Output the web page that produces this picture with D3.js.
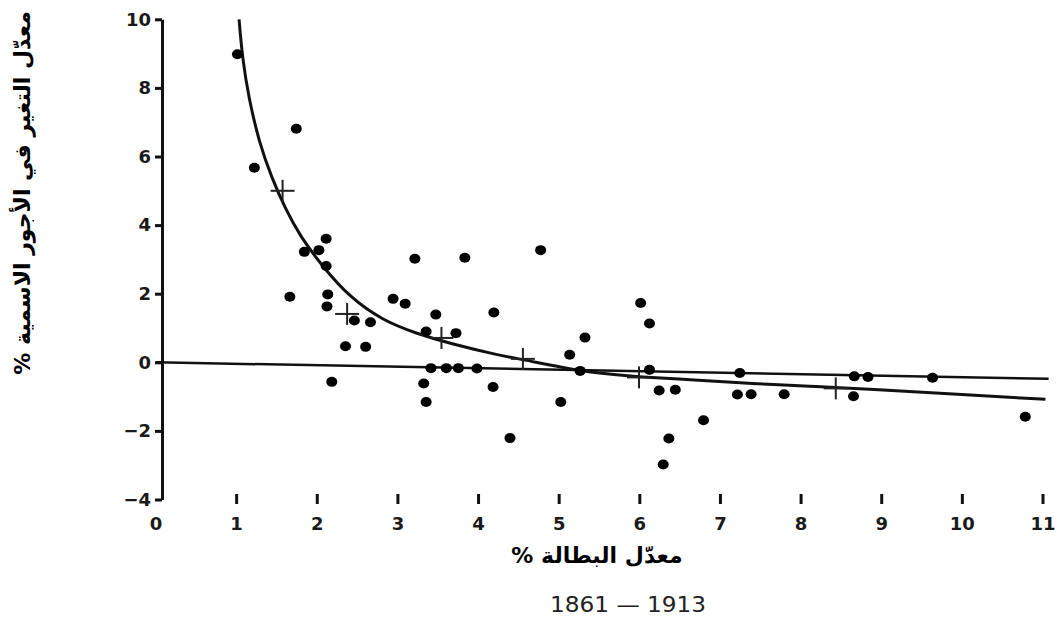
<html>
  <head>
    <meta charset="utf-8">
    <title>Phillips curve 1861-1913</title>
    <script src="https://cdn.jsdelivr.net/npm/d3@7"></script>
    <style type="text/css">

body {
  margin: 0;
  background: #fff;
}

svg {
  display: block;
  font-family: "DejaVu Sans", sans-serif;
}

.axis path, .axis line, .xtick {
  stroke: #111;
  stroke-width: 3px;
  fill: none;
}

.axis text, .xlab {
  font-size: 18px;
  font-weight: bold;
  fill: #1a1a1a;
}

.curve, .flat {
  fill: none;
  stroke: #111;
}

.cross {
  stroke: #222;
  stroke-width: 2px;
}

.title {
  font-weight: bold;
  font-size: 22px;
  fill: #000;
}

    </style>
  </head>
  <body>
    <script type="text/javascript">

// observations 1861-1913: unemployment % and change of money wages %
var unemployment = [1.01, 1.22, 1.74, 1.84, 2.02, 2.11, 2.11, 1.66, 2.13, 2.12,
  2.46, 2.66, 2.35, 2.60, 2.18, 2.94, 3.09, 3.21, 3.83, 3.47,
  3.35, 3.72, 4.19, 3.41, 3.60, 3.75, 3.98, 3.32, 3.35, 4.18,
  4.39, 4.77, 5.13, 5.32, 5.26, 5.02, 6.01, 6.12, 6.12, 6.24,
  6.44, 6.36, 6.29, 6.79, 7.24, 7.21, 7.38, 7.79, 8.66, 8.83,
  8.65, 9.63, 10.78];
var wageChange = [8.98, 5.67, 6.81, 3.22, 3.27, 3.60, 2.81, 1.91, 1.98, 1.63,
  1.22, 1.17, 0.47, 0.45, -0.57, 1.85, 1.71, 3.02, 3.05, 1.39,
  0.90, 0.85, 1.45, -0.17, -0.17, -0.17, -0.18, -0.62, -1.16, -0.72,
  -2.21, 3.27, 0.22, 0.72, -0.25, -1.16, 1.73, 1.13, -0.22, -0.82,
  -0.80, -2.22, -2.98, -1.69, -0.31, -0.94, -0.93, -0.93, -0.41, -0.43,
  -0.99, -0.45, -1.59];

// averages (crosses)
var crossX = [1.57, 2.37, 3.54, 4.55, 5.99, 8.43];
var crossY = [5.00, 1.41, 0.71, 0.10, -0.44, -0.76];

// fitted curve
var curveX = [1.03, 1.07, 1.15, 1.28, 1.44, 1.60, 1.78, 2.07, 2.40, 2.81,
  3.23, 3.64, 4.26, 4.55, 5.01, 5.50, 5.99, 6.75, 7.37, 8.15, 8.65, 11.03];
var curveY = [10.0, 8.9, 7.7, 6.4, 5.35, 4.5, 3.7, 2.78, 1.90, 1.22,
  0.84, 0.55, 0.20, 0.08, -0.14, -0.33, -0.43, -0.52, -0.62, -0.70, -0.76, -1.08];

// nearly flat line
var lineX = [0, 11.07];
var lineY = [0, -0.48];

var xTicks = [0, 1, 2, 3, 4, 5, 6, 7, 8, 9, 10, 11];
var yTicks = [-4, -2, 0, 2, 4, 6, 8, 10];

var w = 1060,
    h = 624,
    x = d3.scaleLinear().domain([0, 11]).range([156, 1043]),
    y = d3.scaleLinear().domain([-4, 10]).range([499.5, 19.3]);

var vis = d3.select("body")
  .append("svg")
    .attr("width", w)
    .attr("height", h);

vis.append("rect")
    .attr("width", w)
    .attr("height", h)
    .attr("fill", "#fff");

// y axis, drawn a little right of the zero mark as in the original
var yAxis = vis.append("g")
    .attr("class", "axis")
    .attr("transform", "translate(" + (x(0) + 6) + ",0)")
    .call(d3.axisLeft(y)
      .tickValues(yTicks)
      .tickSizeInner(7)
      .tickSizeOuter(0)
      .tickPadding(4)
      .tickFormat(function(d) { return d < 0 ? "\u2212" + Math.abs(d) : d; }));
yAxis.selectAll("text").attr("font-family", "DejaVu Sans, sans-serif");

// x ticks are loose marks above the labels
vis.selectAll("line.xtick")
    .data(xTicks.filter(function(d) { return d > 0; }))
  .enter().append("line")
    .attr("class", "xtick")
    .attr("x1", x)
    .attr("x2", x)
    .attr("y1", 494)
    .attr("y2", 504);

vis.selectAll("text.xlab")
    .data(xTicks)
  .enter().append("text")
    .attr("class", "xlab")
    .attr("x", x)
    .attr("y", 530)
    .attr("text-anchor", "middle")
    .text(function(d) { return d; });

vis.append("path")
    .attr("class", "flat")
    .attr("stroke-width", 2.5)
    .attr("d", d3.line()
      .x(function(d) { return x(d); })
      .y(function(d, i) { return y(lineY[i]); })(lineX));

vis.append("path")
    .attr("class", "curve")
    .attr("stroke-width", 3)
    .attr("d", d3.line()
      .curve(d3.curveBasis)
      .x(function(d) { return x(d); })
      .y(function(d, i) { return y(curveY[i]); })(curveX));

vis.selectAll("ellipse.obs")
    .data(unemployment)
  .enter().append("ellipse")
    .attr("class", "obs")
    .attr("cx", function(d) { return x(d); })
    .attr("cy", function(d, i) { return y(wageChange[i]); })
    .attr("rx", 5.5)
    .attr("ry", 5)
    .attr("fill", "#000");

var crosses = vis.selectAll("g.cross")
    .data(crossX)
  .enter().append("g")
    .attr("class", "cross")
    .attr("transform", function(d, i) {
      return "translate(" + x(d) + "," + y(crossY[i]) + ")";
    });
crosses.append("line").attr("x1", -12).attr("x2", 12);
crosses.append("line").attr("y1", -11).attr("y2", 11);

vis.append("text")
    .attr("class", "title")
    .attr("direction", "rtl")
    .attr("x", 597)
    .attr("y", 563)
    .attr("text-anchor", "middle")
    .text("معدّل البطالة %");

vis.append("text")
    .attr("class", "title")
    .attr("direction", "rtl")
    .attr("transform", "translate(22,193) rotate(-90)")
    .attr("dy", ".35em")
    .attr("text-anchor", "middle")
    .text("معدّل التغير في الأجور الاسمية %");

vis.append("text")
    .attr("x", 628)
    .attr("y", 612)
    .attr("text-anchor", "middle")
    .attr("font-size", 22)
    .attr("fill", "#222")
    .attr("textLength", 156)
    .attr("lengthAdjust", "spacingAndGlyphs")
    .text("1861 \u2014 1913");

    </script>
  </body>
</html>
